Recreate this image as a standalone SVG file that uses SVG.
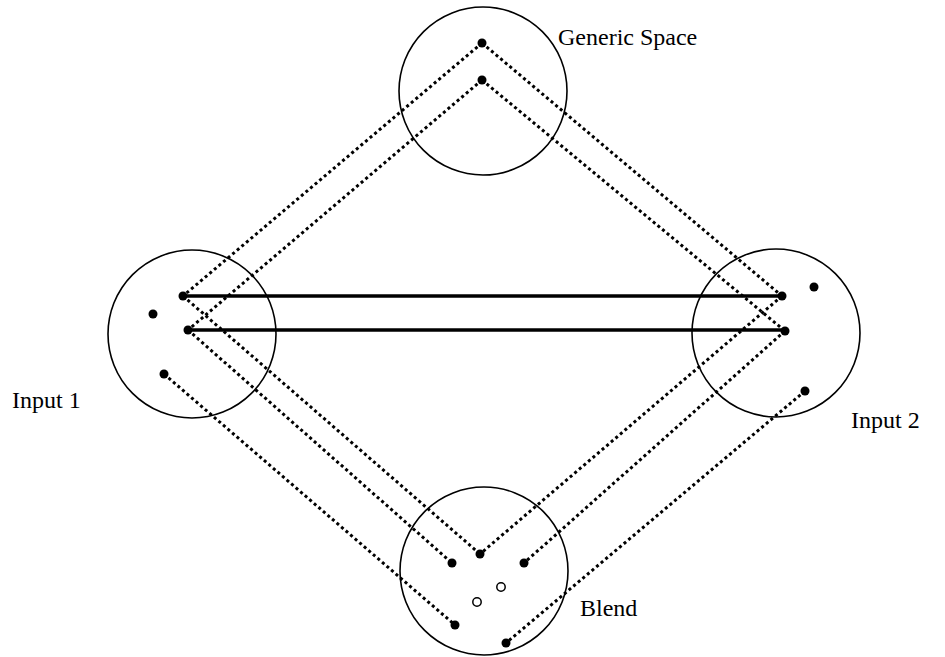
<svg xmlns="http://www.w3.org/2000/svg" width="945" height="657" viewBox="0 0 945 657">
<style>
.space{fill:none;stroke:#000;stroke-width:1.6}
.dot{fill:#000}
.open{fill:#fff;stroke:#000;stroke-width:1.5}
.map{stroke:#000;stroke-width:3;stroke-dasharray:3 3;fill:none}
.link{stroke:#000;stroke-width:3.5;fill:none}
.lbl{font-family:"Liberation Serif","Times New Roman",serif;font-size:24px;fill:#000}
</style>
<rect width="945" height="657" fill="#fff"/>
<g id="connectors">
<line class="map" x1="482" y1="43" x2="183" y2="296"/>
<line class="map" x1="482" y1="43" x2="782" y2="296"/>
<line class="map" x1="482" y1="80" x2="188" y2="330"/>
<line class="map" x1="482" y1="80" x2="785" y2="331"/>
<line class="map" x1="183" y1="296" x2="480" y2="554"/>
<line class="map" x1="188" y1="330" x2="452" y2="563"/>
<line class="map" x1="164" y1="374" x2="455" y2="625"/>
<line class="map" x1="782" y1="296" x2="480" y2="554"/>
<line class="map" x1="785" y1="331" x2="524" y2="563"/>
<line class="map" x1="805" y1="391" x2="506" y2="643"/>
<line class="link" x1="183" y1="296" x2="782" y2="296"/>
<line class="link" x1="188" y1="330" x2="785" y2="330"/>
</g>
<g id="generic">
<circle class="space" cx="483" cy="91" r="84"/>
<circle class="dot" cx="482" cy="43" r="4.5"/>
<circle class="dot" cx="482" cy="80" r="4.5"/>
<text class="lbl" x="558" y="45">Generic Space</text>
</g>
<g id="input1">
<circle class="space" cx="192" cy="334" r="84"/>
<circle class="dot" cx="183" cy="296" r="4.5"/>
<circle class="dot" cx="153" cy="314" r="4.5"/>
<circle class="dot" cx="188" cy="330" r="4.5"/>
<circle class="dot" cx="164" cy="374" r="4.5"/>
<text class="lbl" x="12" y="408">Input 1</text>
</g>
<g id="input2">
<circle class="space" cx="776" cy="333" r="84"/>
<circle class="dot" cx="782" cy="296" r="4.5"/>
<circle class="dot" cx="814" cy="287" r="4.5"/>
<circle class="dot" cx="785" cy="331" r="4.5"/>
<circle class="dot" cx="805" cy="391" r="4.5"/>
<text class="lbl" x="851" y="428">Input 2</text>
</g>
<g id="blend">
<circle class="space" cx="484" cy="571" r="84"/>
<circle class="dot" cx="480" cy="554" r="4.5"/>
<circle class="dot" cx="452" cy="563" r="4.5"/>
<circle class="dot" cx="524" cy="563" r="4.5"/>
<circle class="open" cx="501" cy="587" r="4.2"/>
<circle class="open" cx="477" cy="602" r="4.2"/>
<circle class="dot" cx="455" cy="625" r="4.5"/>
<circle class="dot" cx="506" cy="643" r="4.5"/>
<text class="lbl" x="580" y="616">Blend</text>
</g>
</svg>
